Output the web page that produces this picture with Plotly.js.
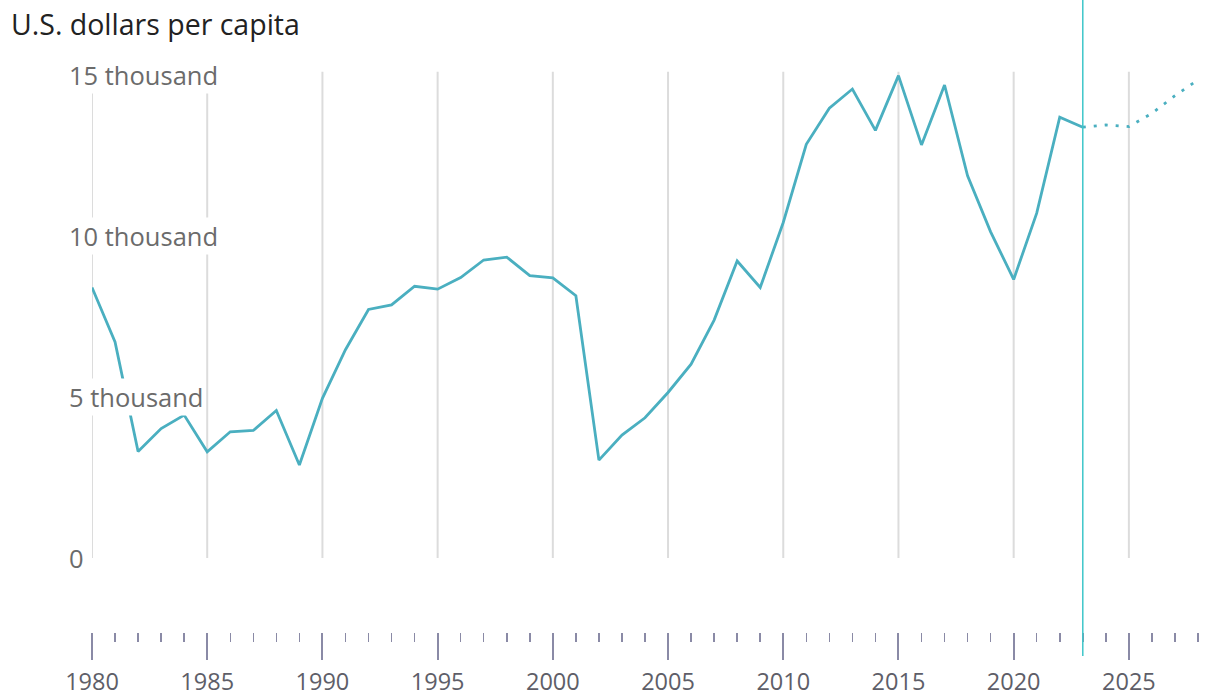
<!DOCTYPE html>
<html>
<head>
<meta charset="utf-8">
<script src="https://cdn.plot.ly/plotly-3.0.1.min.js"></script>
<style>html,body{margin:0;padding:0;background:#fff;}#chart{width:1207px;height:697px;}</style>
</head>
<body>
<div id="chart"></div>
<script>
// Historical values (U.S. dollars per capita)
const years = [1980,1981,1982,1983,1984,1985,1986,1987,1988,1989,1990,1991,1992,1993,1994,1995,1996,1997,1998,1999,2000,2001,2002,2003,2004,2005,2006,2007,2008,2009,2010,2011,2012,2013,2014,2015,2016,2017,2018,2019,2020,2021,2022,2023];
const values = [8400,6710,3310,4020,4440,3300,3920,3960,4580,2890,4960,6470,7720,7860,8440,8350,8710,9255,9345,8770,8700,8145,3040,3820,4355,5140,6020,7390,9225,8400,10420,12850,13970,14565,13280,14980,12830,14690,11870,10130,8650,10710,13690,13380];
// Forecast values
const fYears = [2023,2024,2025,2026,2027,2028];
const fValues = [13380,13450,13400,13810,14360,14850];
// Axis labels
const gridYears = [1980,1985,1990,1995,2000,2005,2010,2015,2020,2025];
const yTickVals = [0,5000,10000,15000];
const yTickText = ['0','5 thousand','10 thousand','15 thousand'];
const titleText = 'U.S. dollars per capita';
const splitYear = 2023;

const lineColor = '#4aafc0';
const font = '"Open Sans", Lato, sans-serif';

const traces = [
  {x: years, y: values, type: 'scatter', mode: 'lines', line: {color: lineColor, width: 2.8}, hoverinfo: 'skip'},
  {x: fYears, y: fValues, type: 'scatter', mode: 'lines', line: {color: lineColor, width: 2.8, dash: '3px,8px'}, hoverinfo: 'skip'}
];

const shapes = gridYears.map(yr => ({
  type: 'line', xref: 'x', yref: 'y', x0: yr, x1: yr, y0: 0, y1: 15100,
  line: {color: '#dcdcdc', width: 2}, layer: 'below'
}));
shapes.push({
  type: 'line', xref: 'x', yref: 'paper', x0: splitYear, x1: splitYear,
  y0: -0.0412, y1: 1.09, line: {color: '#3ec6c9', width: 1.5}
});

const annotations = yTickVals.map((v, i) => ({
  xref: 'x', yref: 'y', x: 1980, y: v, xshift: -25, xanchor: 'left', yanchor: 'middle',
  text: yTickText[i], showarrow: false, bgcolor: '#ffffff', borderpad: 1,
  font: {family: font, size: 25.5, color: '#6b6b6b'}
}));
annotations.push({
  xref: 'paper', yref: 'paper', x: -0.0752, y: 1.045, xanchor: 'left', yanchor: 'middle',
  text: titleText, showarrow: false,
  font: {family: font, size: 28.5, color: '#222222'}
});

const layout = {
  width: 1207, height: 697,
  margin: {l: 92, r: 9, t: 50, b: 65},
  paper_bgcolor: '#ffffff', plot_bgcolor: '#ffffff',
  showlegend: false,
  xaxis: {
    range: [1980, 2028], tickvals: gridYears, ticktext: gridYears.map(String),
    showgrid: false, zeroline: false, showline: false,
    ticks: 'outside', ticklen: 27, tickwidth: 2, tickcolor: '#8a8aa6',
    ticklabelstandoff: 2,
    minor: {dtick: 1, tick0: 1980, ticks: 'outside', ticklen: 9, tickwidth: 1.5, tickcolor: '#8a8aa6', showgrid: false},
    tickfont: {family: font, size: 23.5, color: '#5e5e68'},
    fixedrange: true
  },
  yaxis: {
    range: [-2298, 15777], showgrid: false, zeroline: false, showline: false,
    showticklabels: false, ticks: '', fixedrange: true
  },
  shapes: shapes,
  annotations: annotations
};

Plotly.newPlot('chart', traces, layout, {displayModeBar: false, staticPlot: true});
</script>
</body>
</html>
